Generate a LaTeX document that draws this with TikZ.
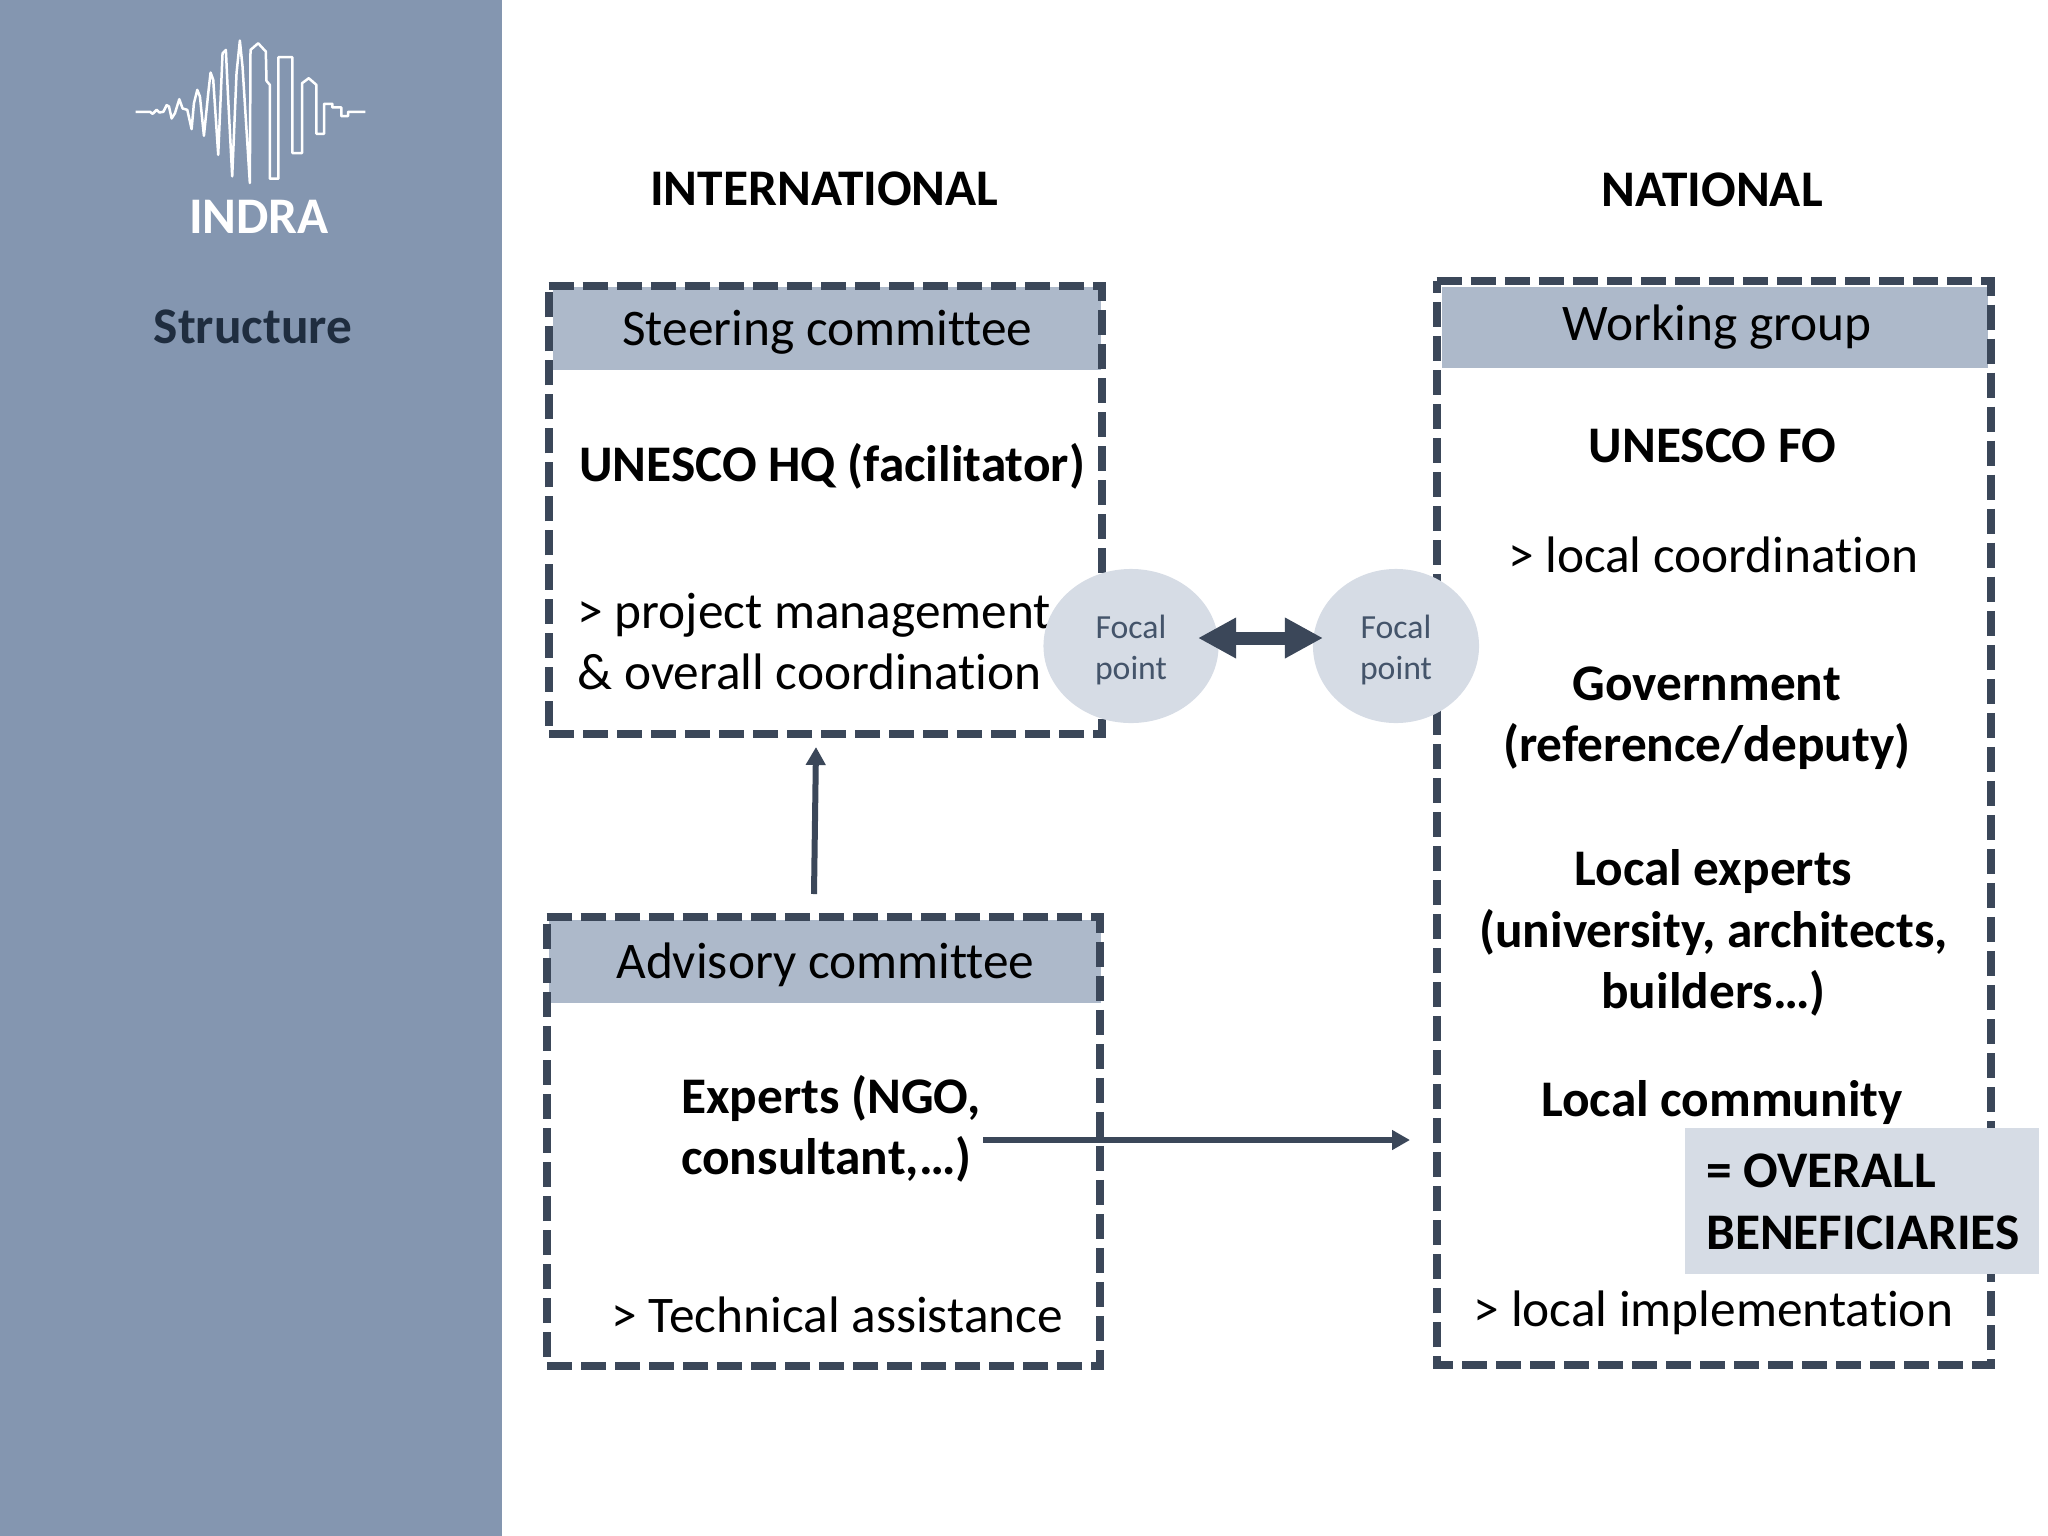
\documentclass[tikz,border=0pt]{standalone}
\usepackage{fontspec}
\setmainfont[Ligatures=NoCommon]{Carlito}
\usepackage{xcolor}
\usetikzlibrary{positioning, arrows.meta, shapes.geometric}
\definecolor{sidecol}{HTML}{8496B0}
\definecolor{headcol}{HTML}{ADB9CA}
\definecolor{palecol}{HTML}{D6DCE5}
\definecolor{linecol}{HTML}{3B4759}
\definecolor{titlecol}{HTML}{1F2D3F}
\definecolor{focalcol}{HTML}{44546A}
\newcommand{\dashframe}[1]{
\draw [frameline] (#1.north west) -- (#1.north east) -- (#1.south east) -- (#1.south west) -- cycle;
}
\newcommand{\focaltext}{\rule{0pt}{8.8pt}Focal\\point}
\tikzset{
bodytext/.style = {inner sep = 0, font = \fontsize{14.6}{17.5}\selectfont},
boldtext/.style = {bodytext, font = \fontsize{14.6}{17.5}\selectfont\bfseries},
frameline/.style = {draw = linecol, line width = 0.08cm, dash pattern = on 0.25cm off 0.09cm},
framebox/.style = {inner sep = 0, minimum width = 5.52cm, minimum height = 4.47cm},
headbox/.style = {fill = headcol, inner sep = 0, minimum height = 0.83cm},
focal/.style = {ellipse, fill = palecol, inner sep = 0, minimum height = 1.54cm, text = focalcol, align = center, font = \fontsize{9.6}{11.6}\selectfont},
thinarrow/.style = {draw = linecol, line width = 0.06cm, -{Triangle[length = 0.18cm, width = 0.19cm]}},
fatarrow/.style = {draw = linecol, line width = 0.13cm, {Triangle[length = 0.38cm, width = 0.38cm]}-{Triangle[length = 0.38cm, width = 0.38cm]}}
}
\begin{document}
\begin{tikzpicture}[x = 0.01cm, y = -0.01cm]
\useasboundingbox (0, 0) rectangle (2048, 1536);
\fill [sidecol] (0, 0) rectangle (502, 1536);
\draw [white, line width = 0.025cm, line join = round, shift = {(135.7, 0)}, x = 0.00333cm, y = -0.00333cm]
 (0, 336) -- (43, 336) -- (51, 342) -- (63, 330) -- (71, 338) -- (83, 336) -- (93, 316) -- (100, 320) -- (108, 356) -- (118, 340) -- (131, 298) -- (141, 326) -- (155, 330) -- (168, 388) -- (175, 310) -- (185, 270) -- (193, 290) -- (205, 408) -- (218, 280) -- (225, 218) -- (233, 240) -- (248, 465) -- (261, 160) -- (271, 150) -- (277, 280) -- (290, 530) -- (303, 220) -- (313, 122) -- (321, 200) -- (343, 550) -- (345, 150) -- (368, 130) -- (391, 155) -- (393, 243) -- (403, 255) -- (403, 537) -- (429, 537) -- (429, 172) -- (471, 172) -- (471, 460) -- (500, 460) -- (500, 250) -- (520, 235) -- (543, 255) -- (543, 402) -- (566, 402) -- (566, 312) -- (591, 312) -- (591, 323) -- (618, 323) -- (618, 349) -- (638, 349) -- (638, 336) -- (690, 336);
\node [boldtext, white] (indra) at (259, 217) {INDRA};
\node [boldtext, titlecol] (structure) at (253, 327) {Structure};
\node [boldtext] (international) at (824.4, 189) {INTERNATIONAL};
\node [boldtext] (national) at (1712, 190) {NATIONAL};
\node [headbox, minimum width = 5.48cm] (steerhead) at (827, 328.5) {};
\node [headbox, minimum width = 5.51cm] (advhead) at (825, 961.5) {};
\node [headbox, minimum width = 5.46cm, minimum height = 0.81cm] (workhead) at (1715, 327.5) {};
\node [framebox] (steering) at (825.5, 510) {};
\node [framebox] (advisory) at (823.5, 1141.5) {};
\node [framebox, minimum width = 5.53cm, minimum height = 10.82cm] (working) at (1714, 823) {};
\dashframe{steering}
\dashframe{advisory}
\dashframe{working}
\node [bodytext] (steertext) at (827.4, 332) {Steering committee};
\node [bodytext] (advtext) at (825.4, 964.7) {Advisory committee};
\node [bodytext] (worktext) at (1717, 327) {Working group};
\node [boldtext, anchor = west] (hq) at (578.4, 466.3) {UNESCO HQ (facilitator)};
\node [bodytext, anchor = west, align = left] (manage) at (577, 641.7) {> project management\\\& overall coordination};
\node [boldtext, anchor = west, align = left] (experts) at (680.4, 1128.7) {Experts (NGO,\\consultant,…)};
\node [bodytext, anchor = west] (technical) at (611, 1315) {> Technical assistance};
\node [boldtext] (fo) at (1712.5, 445.7) {UNESCO FO};
\node [bodytext] (localco) at (1713.5, 554.4) {> local coordination};
\node [boldtext, align = center] (government) at (1706.8, 718) {Government\\(reference/deputy)};
\node [boldtext, align = center] (localexp) at (1713.5, 933) {Local experts\\(university, architects,\\builders…)};
\node [boldtext] (community) at (1722, 1102.7) {Local community};
\node [fill = palecol, inner sep = 0, minimum width = 3.53cm, minimum height = 1.45cm] (overall) at (1862, 1201) {};
\node [boldtext, anchor = west, align = left] (overalltext) at (1705.5, 1202) {= OVERALL\\BENEFICIARIES};
\node [bodytext] (localim) at (1713.5, 1312.4) {> local implementation};
\node [focal, minimum width = 1.75cm] (focalL) at (1131, 646) {\focaltext};
\node [focal, minimum width = 1.66cm] (focalR) at (1396, 646) {\focaltext};
\coordinate (fatL) at (1198, 638);
\coordinate (fatR) at (1323, 638);
\coordinate (upstart) at (814, 894);
\coordinate (uptip) at (816, 747);
\coordinate (sidestart) at (983, 1140);
\coordinate (sidetip) at (1410, 1140);
\draw [fatarrow] (fatL) -- (fatR);
\draw [thinarrow] (upstart) -- (uptip);
\draw [thinarrow] (sidestart) -- (sidetip);
\end{tikzpicture}
\end{document}
